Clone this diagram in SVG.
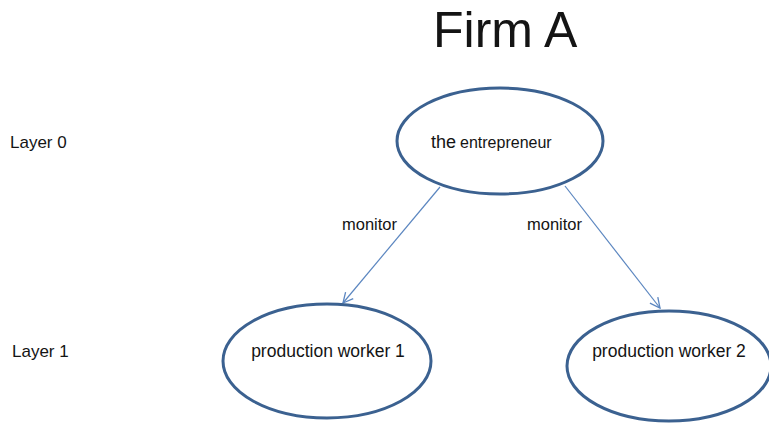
<svg xmlns="http://www.w3.org/2000/svg" width="769" height="423" viewBox="0 0 769 423">
  <style>
    text { font-family: "Liberation Sans", Arial, sans-serif; fill: #141414; }
    .node { fill: #ffffff; stroke: #3b6190; stroke-width: 3; }
    .edge { stroke: #5b86c0; stroke-width: 1.2; fill: none; }
    .layer { font-size: 17px; }
    .label { font-size: 17.5px; text-anchor: middle; }
    .edge-label { font-size: 16.5px; }
  </style>
  <defs>
    <marker id="open-arrow" viewBox="0 0 12 12" refX="11" refY="6" markerWidth="12" markerHeight="12" markerUnits="userSpaceOnUse" orient="auto">
      <path d="M1,1 L11,6 L1,11" fill="none" stroke="#5b86c0" stroke-width="1.3"/>
    </marker>
  </defs>

  <rect width="769" height="423" fill="#ffffff"/>

  <text id="title" x="433" y="47" font-size="50">Firm A</text>

  <text class="layer" x="10" y="148">Layer 0</text>
  <text class="layer" x="12" y="357">Layer 1</text>

  <g id="connectors">
    <line class="edge" x1="440" y1="187" x2="343" y2="303" marker-end="url(#open-arrow)"/>
    <line class="edge" x1="565" y1="186" x2="660" y2="308" marker-end="url(#open-arrow)"/>
    <text class="edge-label" x="342" y="230">monitor</text>
    <text class="edge-label" x="527" y="230">monitor</text>
  </g>

  <g id="entrepreneur">
    <ellipse class="node" cx="500" cy="141" rx="103" ry="53"/>
    <text x="431" y="148"><tspan font-size="18">the</tspan><tspan font-size="16" dx="4">entrepreneur</tspan></text>
  </g>

  <g id="worker1">
    <ellipse class="node" cx="327" cy="361" rx="104" ry="57"/>
    <text class="label" x="328" y="357">production worker 1</text>
  </g>

  <g id="worker2">
    <ellipse class="node" cx="669" cy="366" rx="102" ry="55"/>
    <text class="label" x="669" y="357">production worker 2</text>
  </g>
</svg>
